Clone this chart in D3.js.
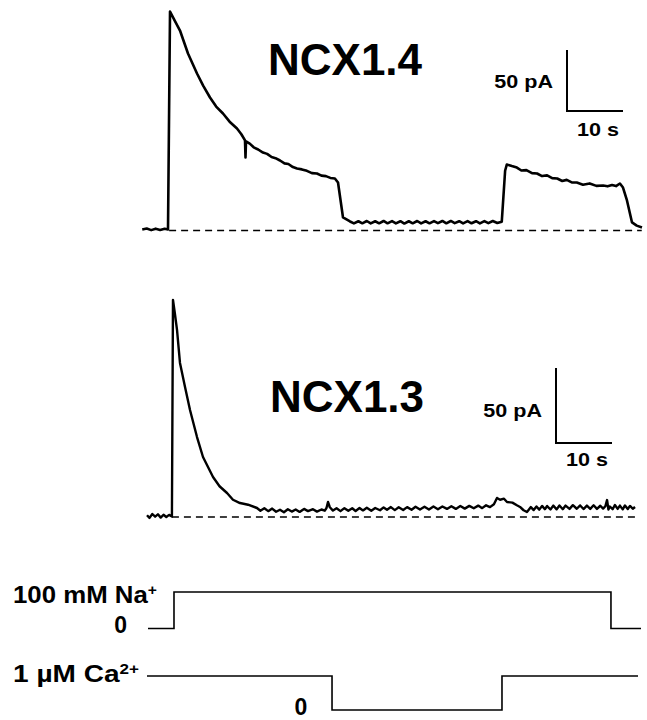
<!DOCTYPE html>
<html>
<head>
<meta charset="utf-8">
<script src="https://cdn.jsdelivr.net/npm/d3@7"></script>
<style>
  body { margin: 0; background: #fff; }
  text { font-family: "Liberation Sans", Arial, sans-serif; font-weight: bold; fill: #000; }
</style>
</head>
<body>
<div id="chart"></div>
<script>
// time in s (0 = Na+ step of the top record), current in pA
const ncx14Trace = [
  [-4.6, 0.8], [-3.8, 1.6], [-3.0, 0.3], [-2.2, 1.5], [-1.4, 0.5], [-0.6, 1.4], [0, 0.8],
  [0.36, 179.5], [1.2, 172], [2.14, 163.9], [3.57, 145.1], [5.18, 128.7], [6.3, 118.5], [7.5, 109.0],
  [8.6, 101.6], [9.82, 95.9], [11.0, 89.2], [12.32, 83.6], [13.1, 78.9], [13.75, 73.8], [13.84, 59.8],
  [13.93, 73], [14.6, 71.2], [15.3, 68.2], [16.1, 66.4], [16.96, 63.9], [17.7, 62.8], [18.5, 60.2],
  [19.2, 59.3], [20.0, 57.4], [20.8, 55.0], [21.5, 54.5], [22.3, 52.0], [23.04, 50.8], [23.9, 50.1],
  [24.8, 48.9], [25.7, 47.0], [26.6, 46.7], [27.4, 45.0], [28.2, 44.6], [29.0, 43.1], [29.8, 42.6],
  [30.36, 39.3], [31.25, 10.7], [32.5, 7.4],
  [33.2, 5.8], [34, 7.6], [34.7, 5.9], [35.5, 7.8], [36.2, 5.8], [37, 7.6], [37.7, 5.9], [38.5, 7.8],
  [39.2, 5.9], [40, 7.7], [40.7, 5.8], [41.5, 7.6], [42.2, 5.7], [43, 7.6], [43.7, 5.9], [44.5, 7.8],
  [45.2, 5.8], [46, 7.6], [46.7, 5.9], [47.5, 7.7], [48.2, 6.0], [49, 7.8], [49.7, 5.9], [50.5, 7.8],
  [51.2, 6.0], [52, 7.6], [52.7, 5.8], [53.5, 7.7], [54.2, 5.9], [55, 7.6], [55.7, 5.8], [56.5, 7.7],
  [57.2, 6.0], [58, 7.8], [58.8, 6.2], [59.6, 7.2],
  [60.2, 49], [60.5, 54.1], [61.4, 52.8], [62.3, 51.6], [63.1, 49.2], [64, 49.5], [65.0, 47.0],
  [65.9, 46.7], [66.8, 44.6], [67.7, 45.2], [68.6, 42.9], [69.5, 42.6], [70.4, 40.6], [71.2, 41.5],
  [72.1, 39.4], [73.0, 39.3], [74.1, 37.5], [75.3, 38.6], [76.5, 36.6], [77.7, 36.9], [78.5, 36.2],
  [79.3, 37.3], [80.0, 36.4], [80.7, 38.5], [81.25, 35.2], [81.96, 24.6], [82.86, 6.6], [83.7, 4.0],
  [84.64, 2.5]
];

const ncx13Trace = [
  [-3.75, 1.2], [-3.3, -0.6], [-2.8, 2.0], [-2.3, 0.2], [-1.8, 1.8], [-1.3, -0.4],
  [-0.8, 1.5], [-0.3, 0.0], [0.2, 1.4], [0.7, 0.3],
  [0.89, 144.7], [1.25, 135], [1.61, 124.7], [2.14, 102.7], [3.04, 86.7], [3.93, 71.3],
  [5.18, 53.3], [6.25, 40], [8.04, 26.7], [9.2, 20.5], [10.54, 16], [11.6, 11.5],
  [12.86, 9.3], [14.3, 8.2], [15.89, 6], [16.5, 4.2], [17.2, 5.8], [17.9, 3.9], [18.6, 5.6],
  [19.3, 3.5], [20, 4.8], [20.7, 3.2], [21.4, 5.2], [22.1, 3.6], [22.8, 5.0], [23.5, 3.4],
  [24.3, 5.4], [25.0, 3.9], [25.89, 5.2], [26.6, 3.6], [27.4, 5.0], [28.0, 4.2], [28.3, 6],
  [28.57, 10], [28.9, 6.5], [29.46, 4.3], [30.1, 5.8], [30.8, 3.9], [31.5, 5.9], [32.2, 4.1],
  [32.9, 5.8], [33.5, 4.0], [34.2, 6.0], [34.82, 4.4], [35.5, 6.2], [36.3, 4.2], [37.0, 6.0],
  [37.86, 4.5], [38.5, 6.4], [39.11, 4.8], [39.8, 6.6], [40.5, 4.6], [41.2, 6.5], [42, 4.7],
  [42.7, 6.6], [43.5, 4.8], [44.2, 6.8], [45, 5.0], [45.8, 6.9], [46.6, 5.0], [47.4, 7.0],
  [48.2, 5.2], [49.0, 7.0], [49.82, 5.4], [50.6, 7.2], [51.4, 5.4], [52.2, 7.3], [53, 5.6],
  [53.8, 7.4], [54.6, 5.8], [55.4, 7.6], [56.1, 5.9], [56.8, 7.8], [57.5, 6.6], [58.2, 8.5],
  [58.75, 12.7], [59.3, 11.5], [60.0, 12.2], [60.54, 10], [61.5, 9.6], [62.3, 7.8],
  [62.86, 6.7], [63.5, 4.5], [64.1, 3.3], [64.8, 6.6], [65.3, 4.6], [65.8, 7.0], [66.3, 4.9],
  [66.8, 7.4], [67.3, 5.2], [67.7, 7.3], [68.3, 5.0], [68.8, 7.6], [69.4, 5.1], [69.9, 7.7],
  [70.5, 5.2], [71, 7.6], [71.7, 5.4], [72.3, 7.9], [73, 5.5], [73.6, 7.7], [74.2, 5.3],
  [74.8, 7.6], [75.4, 5.4], [76, 7.8], [76.6, 5.4], [77.2, 7.5], [77.7, 5.6], [78.1, 7.2],
  [78.4, 11.3], [78.65, 5.0], [78.9, 7.0], [79.4, 5.2], [79.8, 8.0], [80.3, 5.4], [80.7, 7.6],
  [81.2, 5.1], [81.6, 7.7], [82.1, 5.3], [82.5, 7.4], [83.0, 5.5], [83.4, 6.7]
];

// zero-current reference lines [start, end] in s
const ncx14Zero = [0.2, 84.6];
const ncx13Zero = [0.7, 83.4];

// solution protocol: [time s, level]
const naSteps = [[-3.57, 0], [1.07, 100], [79.1, 0], [84.46, 0]];
const caSteps = [[-3.75, 1], [29.29, 0], [59.64, 1], [83.93, 1]];

const titles = ['NCX1.4', 'NCX1.3'];
const scaleBarLabels = ['50 pA', '10 s'];

const width = 647, height = 720;

const svg = d3.select('#chart').append('svg')
  .attr('width', width)
  .attr('height', height);

svg.append('rect').attr('width', width).attr('height', height).attr('fill', '#fff');

const x = d3.scaleLinear().domain([0, 10]).range([168, 224]);
const yTop = d3.scaleLinear().domain([0, 50]).range([230.5, 169.5]);
const yBot = d3.scaleLinear().domain([0, 50]).range([517, 442]);
const yNa = d3.scaleLinear().domain([0, 100]).range([628.5, 592]);
const yCa = d3.scaleLinear().domain([0, 1]).range([710, 676]);

// stretch a text horizontally to the width it has in the figure
function fitWidth(sel, w, anchorX) {
  const bb = sel.node().getBBox();
  const s = w / bb.width;
  sel.attr('transform', `translate(${anchorX},0) scale(${s},1) translate(${-anchorX},0)`);
}

function drawRecord(data, zero, y, title, titlePos, bar, lineW) {
  const line = d3.line().x(d => x(d[0])).y(d => y(d[1]));

  svg.append('line')
    .attr('x1', x(zero[0])).attr('x2', x(zero[1]))
    .attr('y1', y(0)).attr('y2', y(0))
    .attr('stroke', '#000')
    .attr('stroke-width', 1.6)
    .attr('stroke-dasharray', '7,5');

  svg.append('path')
    .datum(data)
    .attr('d', line)
    .attr('fill', 'none')
    .attr('stroke', '#000')
    .attr('stroke-width', lineW)
    .attr('stroke-linejoin', 'round');

  svg.append('text')
    .attr('x', titlePos[0])
    .attr('y', titlePos[1])
    .style('font-size', '44px')
    .text(title);

  // scale bar: 50 pA by 10 s
  const barH = y(0) - y(50);
  const barW = x(10) - x(0);
  svg.append('path')
    .attr('d', `M${bar.x},${bar.y - barH}V${bar.y}H${bar.x + barW}`)
    .attr('fill', 'none')
    .attr('stroke', '#000')
    .attr('stroke-width', 2);

  const pa = svg.append('text')
    .attr('x', bar.x - 14)
    .attr('y', bar.paY)
    .attr('text-anchor', 'end')
    .style('font-size', '19px')
    .text(scaleBarLabels[0]);
  fitWidth(pa, 59, bar.x - 14);

  const sec = svg.append('text')
    .attr('x', bar.x + barW / 2 + 3)
    .attr('y', bar.sY)
    .attr('text-anchor', 'middle')
    .style('font-size', '19px')
    .text(scaleBarLabels[1]);
  fitWidth(sec, 42, bar.x + barW / 2 + 3);
}

drawRecord(ncx14Trace, ncx14Zero, yTop, titles[0], [268, 75], { x: 567, y: 111, paY: 88, sY: 136 }, 2.6);
drawRecord(ncx13Trace, ncx13Zero, yBot, titles[1], [270, 412], { x: 556, y: 443, paY: 417, sY: 466 }, 2.4);

// protocol
const stepLine = (y) => d3.line().x(d => x(d[0])).y(d => y(d[1])).curve(d3.curveStepAfter);

svg.append('path')
  .datum(naSteps)
  .attr('d', stepLine(yNa))
  .attr('fill', 'none').attr('stroke', '#000').attr('stroke-width', 1.6);

svg.append('path')
  .datum(caSteps)
  .attr('d', stepLine(yCa))
  .attr('fill', 'none').attr('stroke', '#000').attr('stroke-width', 1.6);

const naLab = svg.append('text')
  .attr('x', 157).attr('y', yNa(100) + 11)
  .attr('text-anchor', 'end')
  .style('font-size', '23px');
naLab.append('tspan').text('100 mM Na');
naLab.append('tspan').attr('dy', -8).style('font-size', '14px').text('+');
fitWidth(naLab, 144, 157);

svg.append('text')
  .attr('x', 127).attr('y', yNa(0) + 4.5)
  .attr('text-anchor', 'end')
  .style('font-size', '23px')
  .text('0');

const caLab = svg.append('text')
  .attr('x', 139).attr('y', yCa(1) + 6)
  .attr('text-anchor', 'end')
  .style('font-size', '23px');
caLab.append('tspan').text('1 \u00b5M Ca');
caLab.append('tspan').attr('dy', -8).style('font-size', '14px').text('2+');
fitWidth(caLab, 126, 139);

svg.append('text')
  .attr('x', 301).attr('y', yCa(0) + 5)
  .attr('text-anchor', 'middle')
  .style('font-size', '23px')
  .text('0');
</script>
</body>
</html>
